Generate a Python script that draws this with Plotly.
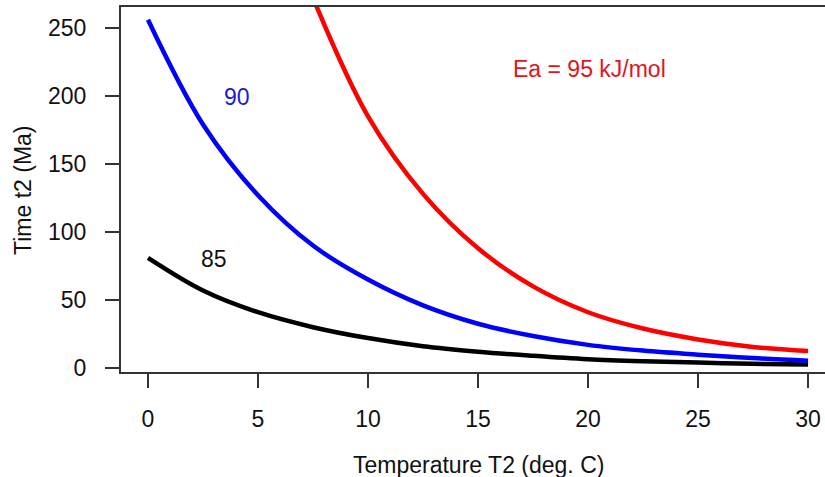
import plotly.graph_objects as go

# Temperature T2 (deg. C)
temp = [0, 2.5, 5, 7.5, 10, 12.5, 15, 17.5, 20, 22.5, 25, 27.5, 30]
# Time t2 (Ma) for each activation energy
t_85 = [81, 57, 41, 30, 22, 16, 12, 9, 6.5, 5, 4, 3.1, 2.5]
t_90 = [256, 179, 127, 90, 65, 46, 32.5, 23.5, 17, 12.8, 9.8, 7.3, 5.4]
temp_95 = [7.5, 10, 12.5, 15, 17.5, 20, 22.5, 25, 27.5, 30]
t_95 = [272, 185, 128, 88, 60, 41, 29, 21, 15.5, 12.5]

x_ticks = [0, 5, 10, 15, 20, 25, 30]
y_ticks = [0, 50, 100, 150, 200, 250]

labels = [
    {"text": "85", "x": 3.0, "y": 80, "color": "#111111"},
    {"text": "90", "x": 4.05, "y": 199, "color": "#1a1adc"},
    {"text": "Ea = 95 kJ/mol", "x": 20.05, "y": 220, "color": "#e0141c"},
]

FONT = "Liberation Sans, Arial, Helvetica, sans-serif"
FS = 23

fig = go.Figure()
fig.add_trace(go.Scatter(x=temp, y=t_85, mode="lines", line=dict(color="black", width=4.5, shape="spline"), showlegend=False))
fig.add_trace(go.Scatter(x=temp, y=t_90, mode="lines", line=dict(color="#0000ff", width=4.5, shape="spline"), showlegend=False))
fig.add_trace(go.Scatter(x=temp_95, y=t_95, mode="lines", line=dict(color="#ff0000", width=4.5, shape="spline"), showlegend=False))

for lab in labels:
    fig.add_annotation(x=lab["x"], y=lab["y"], text=lab["text"], showarrow=False,
                       font=dict(family=FONT, size=FS, color=lab["color"]),
                       xanchor="center", yanchor="middle")

# axis titles
fig.add_annotation(x=15, xref="x", y=-0.2548, yref="paper", text="Temperature T2 (deg. C)",
                   showarrow=False, font=dict(family=FONT, size=FS, color="#111111"),
                   xanchor="center", yanchor="middle")
fig.add_annotation(x=-0.139, xref="paper", y=131, yref="y", text="Time t2 (Ma)", textangle=-90,
                   showarrow=False, font=dict(family=FONT, size=FS, color="#111111"),
                   xanchor="center", yanchor="middle")

fig.update_layout(
    width=825, height=477,
    margin=dict(l=121, r=0, t=7, b=105),
    plot_bgcolor="white", paper_bgcolor="white",
    font=dict(family=FONT, size=FS, color="#111111"),
    xaxis=dict(range=[-1.227, 30.77], tickvals=x_ticks, ticks="outside", ticklen=14, tickwidth=2,
               tickcolor="#333333", showline=True, linecolor="#333333", linewidth=2, mirror=True,
               showgrid=False, zeroline=False, ticklabelstandoff=11),
    yaxis=dict(range=[-2.94, 265.4], tickvals=y_ticks, ticks="outside", ticklen=14, tickwidth=2,
               tickcolor="#333333", showline=True, linecolor="#333333", linewidth=2, mirror=False,
               showgrid=False, zeroline=False, ticklabelstandoff=14),
)

fig.write_html("out.html")
